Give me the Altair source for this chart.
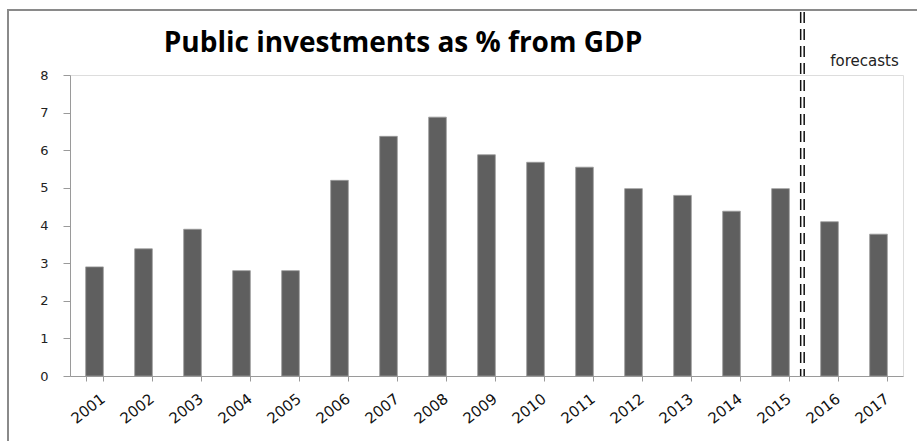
import altair as alt
import pandas as pd

years = ["2001", "2002", "2003", "2004", "2005", "2006", "2007", "2008", "2009",
         "2010", "2011", "2012", "2013", "2014", "2015", "2016", "2017"]
values = [2.9, 3.38, 3.9, 2.8, 2.8, 5.2, 6.37, 6.88, 5.88, 5.68, 5.55, 4.98, 4.8,
          4.38, 4.98, 4.1, 3.77]
title_text = ["Public investments as % from GDP"]
note_text = ["forecasts"]
divider_at = ["2016"]

W, H = 833, 301

df = pd.DataFrame({"year": years, "value": values})

xscale = alt.Scale(domain=years, paddingInner=0.64, paddingOuter=0.32)
yscale = alt.Scale(domain=[0, 8], nice=False)

bars = alt.Chart(df).mark_bar(color="#5f5f5f", stroke="#9a9a9a", strokeWidth=0.8).encode(
    x=alt.X("year:N", scale=xscale, sort=years, title=None,
            axis=alt.Axis(labelAngle=-38, labelFont="DejaVu Sans", labelFontSize=15,
                          labelColor="#111111", tickBand="extent", tickSize=5,
                          tickColor="#9a9a9a", domainColor="#9a9a9a",
                          labelPadding=10, labelOffset=4,
                          labelAlign="right", labelBaseline="top")),
    y=alt.Y("value:Q", scale=yscale, title=None,
            axis=alt.Axis(values=list(range(9)), grid=False, tickSize=7,
                          tickColor="#9a9a9a", domainColor="#9a9a9a",
                          labelFont="DejaVu Sans", labelFontSize=13,
                          labelColor="#222222", labelPadding=15, format="d")),
)

div_df = pd.DataFrame({"year": divider_at})
rule_a = alt.Chart(div_df).mark_rule(color="#111111", strokeWidth=1.5,
                                     strokeDash=[11, 6], xOffset=-20).encode(
    x=alt.X("year:N", scale=xscale, sort=years, bandPosition=0),
    y=alt.value(-63), y2=alt.value(H))
rule_b = alt.Chart(div_df).mark_rule(color="#111111", strokeWidth=1.5,
                                     strokeDash=[11, 6], xOffset=-16.5).encode(
    x=alt.X("year:N", scale=xscale, sort=years, bandPosition=0),
    y=alt.value(-63), y2=alt.value(H))

title = alt.Chart(pd.DataFrame({"t": title_text})).mark_text(
    font="Open Sans", fontSize=28, fontWeight="bold", color="#000000",
    align="center", baseline="middle").encode(
    text="t:N", x=alt.value(333), y=alt.value(-31))

note = alt.Chart(pd.DataFrame({"t": note_text})).mark_text(
    font="DejaVu Sans", fontSize=15, color="#222222", align="center",
    baseline="middle").encode(
    text="t:N", x=alt.value(794.5), y=alt.value(-14))

frame = alt.Chart(pd.DataFrame({"k": [0]})).mark_rect(
    fill=None, stroke="#8a8a8a", strokeWidth=2).encode(
    x=alt.value(-62), x2=alt.value(W + 30), y=alt.value(-65), y2=alt.value(H + 100))

chart = alt.layer(frame, bars, rule_a, rule_b, title, note).properties(
    width=W, height=H,
    autosize=alt.AutoSizeParams(type="none"),
    padding={"left": 70, "top": 75, "right": 14, "bottom": 65},
).configure_view(stroke=None).configure(background="white")

chart.save("out.html", embed_options={"renderer": "svg", "actions": False})
